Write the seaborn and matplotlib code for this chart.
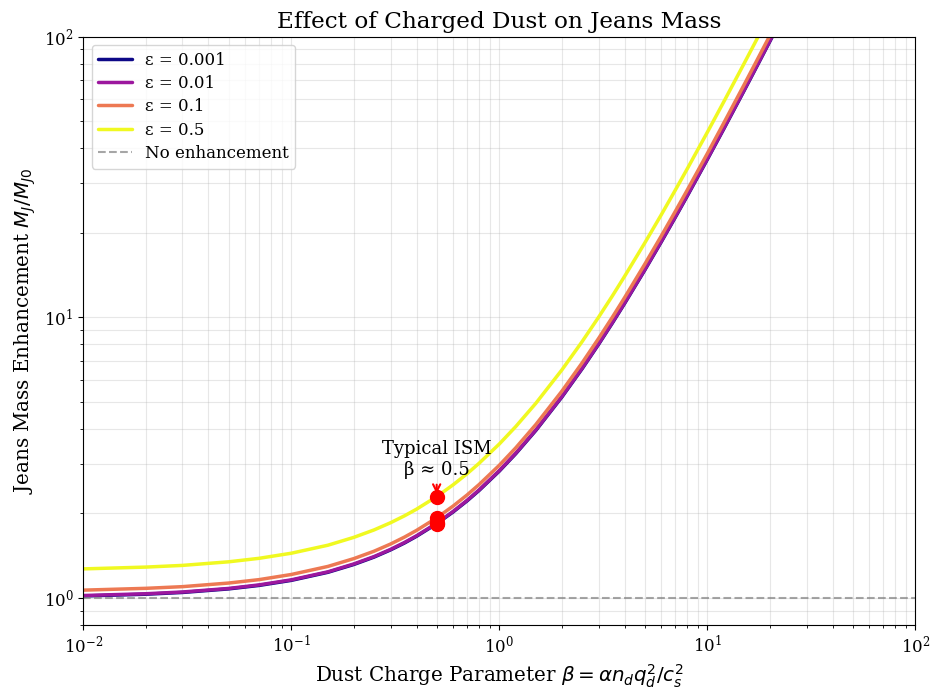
import numpy as np
import pandas as pd
import matplotlib
matplotlib.use("Agg")
import matplotlib.pyplot as plt
import seaborn as sns

# Dust charge parameter samples (beta)
beta = [0.01, 0.02, 0.03, 0.05, 0.07, 0.1, 0.15, 0.2, 0.25, 0.3, 0.35, 0.4, 0.5, 0.6, 0.7,
        0.8, 1.0, 1.2, 1.5, 2.0, 2.5, 3.0, 3.5, 4.0, 5.0, 6.0, 7.0, 8.0, 10.0, 12.0, 15.0,
        17.0, 20.0, 25.0]

# Jeans mass enhancement M_J / M_J0 for each dust fraction epsilon
eps_labels = ["ε = 0.001", "ε = 0.01", "ε = 0.1", "ε = 0.5"]
m_eps_0001 = [1.016, 1.031, 1.046, 1.077, 1.108, 1.155, 1.234, 1.316, 1.398, 1.483, 1.569,
              1.658, 1.838, 2.025, 2.217, 2.416, 2.830, 3.265, 3.955, 5.199, 6.551, 8.004,
              9.551, 11.19, 14.71, 18.53, 22.64, 27.01, 36.50, 46.90, 64.03, 76.41, 96.28, 132.7]
m_eps_001 = [1.020, 1.035, 1.050, 1.081, 1.113, 1.160, 1.239, 1.322, 1.404, 1.489, 1.576,
             1.665, 1.846, 2.034, 2.227, 2.427, 2.842, 3.279, 3.973, 5.222, 6.581, 8.040,
             9.593, 11.24, 14.77, 18.61, 22.74, 27.14, 36.66, 47.11, 64.32, 76.75, 96.71, 133.3]
m_eps_01 = [1.066, 1.082, 1.097, 1.130, 1.162, 1.212, 1.295, 1.381, 1.467, 1.556, 1.647,
            1.740, 1.929, 2.125, 2.327, 2.536, 2.969, 3.426, 4.151, 5.456, 6.875, 8.400,
            10.02, 11.74, 15.44, 19.45, 23.76, 28.35, 38.30, 49.22, 67.20, 80.19, 101.0, 139.2]
m_eps_05 = [1.269, 1.288, 1.306, 1.345, 1.384, 1.443, 1.541, 1.644, 1.747, 1.853, 1.961,
            2.071, 2.296, 2.530, 2.770, 3.019, 3.535, 4.079, 4.941, 6.495, 8.185, 10.00,
            11.93, 13.98, 18.38, 23.15, 28.29, 33.75, 45.60, 58.59, 80.00, 95.46, 120.3, 165.8]

# Values at the typical ISM point beta = 0.5
beta_ism = 0.5
m_ism = [1.838, 1.846, 1.929, 2.296]

sns.set_style("ticks")
plt.rcParams["font.family"] = ["DejaVu Serif"]
plt.rcParams["mathtext.fontset"] = "dejavusans"
for key in ["text.color", "axes.labelcolor", "xtick.color", "ytick.color", "axes.edgecolor"]:
    plt.rcParams[key] = "black"

series = [m_eps_0001, m_eps_001, m_eps_01, m_eps_05]
frames = []
for lab, vals in zip(eps_labels, series):
    frames.append(pd.DataFrame({"beta": beta, "M": vals, "eps": lab}))
df = pd.concat(frames, ignore_index=True)

colors = plt.cm.plasma(np.linspace(0, 1, 4))
palette = {lab: colors[i] for i, lab in enumerate(eps_labels)}

fig, ax = plt.subplots(figsize=(9.35, 6.9), dpi=100)
fig.subplots_adjust(left=0.089, right=0.979, top=0.947, bottom=0.094)

sns.lineplot(data=df, x="beta", y="M", hue="eps", palette=palette, linewidth=2.5,
             ax=ax, legend=True)
ax.axhline(1.0, color="gray", linestyle="--", alpha=0.7, linewidth=1.5, label="No enhancement")

for m in m_ism:
    ax.plot(beta_ism, m, "o", color="red", markersize=10)

ax.annotate("Typical ISM\nβ ≈ 0.5", xy=(beta_ism, m_ism[-1]), xytext=(beta_ism, 2.75),
            ha="center", fontsize=13,
            arrowprops=dict(arrowstyle="->", color="red", lw=1.5))

ax.set_xscale("log")
ax.set_yscale("log")
ax.set_xlim(1e-2, 1e2)
ax.set_ylim(0.8, 100)
ax.grid(True, which="both", color="#b0b0b0", alpha=0.3)
ax.set_xlabel(r"Dust Charge Parameter $\beta = \alpha n_d q_d^2/c_s^2$", fontsize=14.3)
ax.set_ylabel(r"Jeans Mass Enhancement $M_J/M_{J0}$", fontsize=14.3)
ax.set_title("Effect of Charged Dust on Jeans Mass", fontsize=16.7)
ax.tick_params(labelsize=12)

handles, labels = ax.get_legend_handles_labels()
ax.legend(handles, labels, loc="upper left", fontsize=12, labelspacing=0.38, frameon=True)

fig.savefig("out.png", dpi=100)
